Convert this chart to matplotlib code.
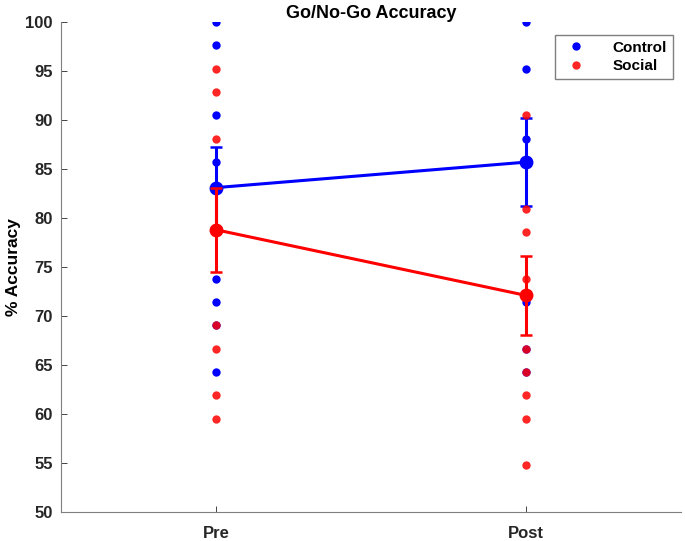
import matplotlib

matplotlib.use("Agg")
import matplotlib.pyplot as plt

plt.rcParams["font.family"] = ["Liberation Sans", "DejaVu Sans"]
plt.rcParams["font.weight"] = "bold"

# session labels
sessions = ["Pre", "Post"]

# individual accuracies
control_pre = [100.0, 97.62, 90.48, 85.71, 73.81, 71.43, 69.05, 64.29]
control_post = [100.0, 95.24, 88.10, 71.43, 66.67, 64.29]
social_pre = [95.24, 92.86, 88.10, 69.05, 66.67, 61.90, 59.52]
social_post = [90.48, 80.95, 78.57, 73.81, 66.67, 64.29, 61.90, 59.52, 54.76]

# group means and standard errors
control_mean = [83.1, 85.7]
control_sem = [4.1, 4.5]
social_mean = [78.8, 72.1]
social_sem = [4.3, 4.0]

BLUE = "#0000ff"
RED = "#ff0000"

fig = plt.figure(figsize=(6.85, 5.41), dpi=100)
ax = fig.add_axes([61 / 685, 29 / 541, 620 / 685, 490 / 541])

x = [1, 2]
ax.plot([x[0]] * len(control_pre), control_pre, "o", color=BLUE, ms=6,
        mec="none", label="Control", zorder=2)
ax.plot([x[1]] * len(control_post), control_post, "o", color=BLUE, ms=6,
        mec="none", zorder=2)
ax.errorbar(x, control_mean, yerr=control_sem, color=BLUE, lw=2.2,
            marker="o", ms=9, capsize=4, capthick=1.8, zorder=3)
ax.plot([x[0]] * len(social_pre), social_pre, "o", color=RED, ms=6,
        mec="none", alpha=0.85, label="Social", zorder=4)
ax.plot([x[1]] * len(social_post), social_post, "o", color=RED, ms=6,
        mec="none", alpha=0.85, zorder=4)
ax.errorbar(x, social_mean, yerr=social_sem, color=RED, lw=2.2,
            marker="o", ms=9, capsize=4, capthick=1.8, zorder=5)

ax.set_xlim(0.5, 2.5)
ax.set_ylim(50, 100)
ax.set_xticks(x)
ax.set_xticklabels(sessions)
ax.set_yticks(range(50, 101, 5))
ax.tick_params(direction="in", colors="#262626", labelsize=12,
               length=4, width=0.6)
ax.tick_params(axis="x", pad=10)
ax.tick_params(axis="y", pad=6)
for lab in ax.get_xticklabels() + ax.get_yticklabels():
    lab.set_fontweight("bold")
for side in ("top", "right"):
    ax.spines[side].set_visible(False)
for side in ("left", "bottom"):
    ax.spines[side].set_color("#7f7f7f")
    ax.spines[side].set_linewidth(0.8)

ax.set_ylabel("% Accuracy", fontsize=12.5, fontweight="bold", labelpad=3)
ax.set_title("Go/No-Go Accuracy", fontsize=13, fontweight="bold", pad=3)

leg = ax.legend(loc="upper right", bbox_to_anchor=(1.0, 0.99), fontsize=11,
                fancybox=False, edgecolor="#7f7f7f", framealpha=1,
                handletextpad=1.4, borderpad=0.4, labelspacing=0.3)
for t in leg.get_texts():
    t.set_fontweight("bold")

fig.savefig("out.png", dpi=100)
